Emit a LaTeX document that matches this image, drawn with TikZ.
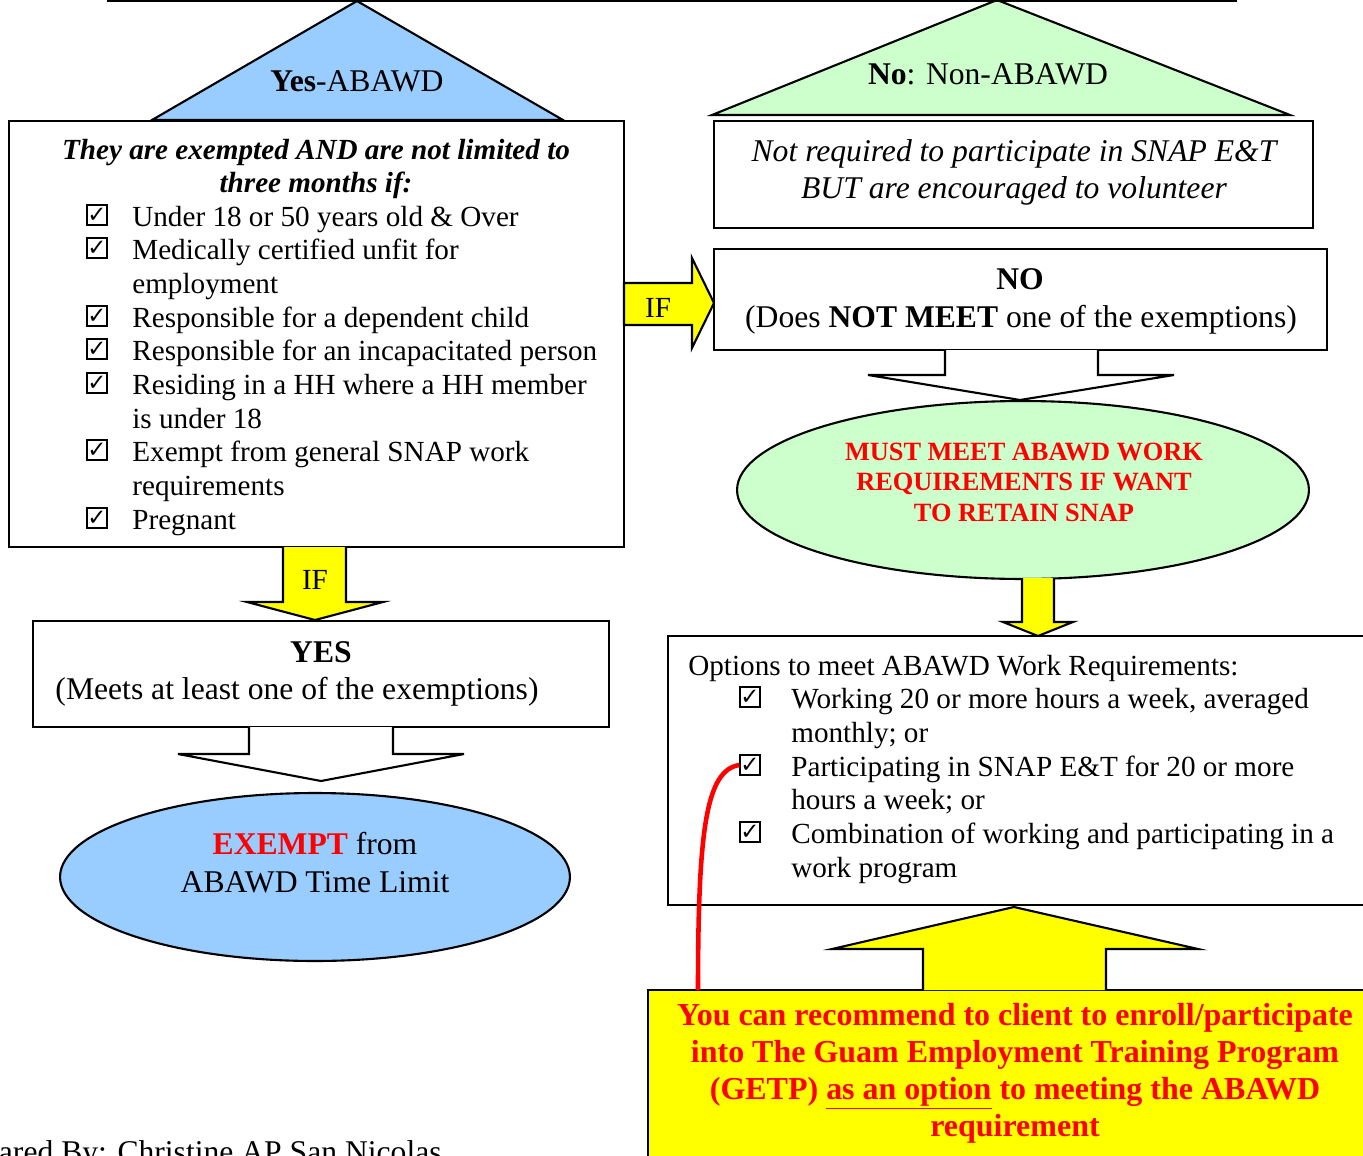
\documentclass[tikz,border=0pt]{standalone}
\usepackage{fontspec}
\setmainfont{Liberation Serif}
\newfontfamily\dv{DejaVu Sans}
\usetikzlibrary{shapes.geometric,fit}
\definecolor{ablue}{HTML}{99CCFF}
\definecolor{agreen}{HTML}{CCFFCC}
\definecolor{ayellow}{HTML}{FFFF00}
\definecolor{ared}{HTML}{FF0000}
\begin{document}
\begin{tikzpicture}[x=0.02cm,y=-0.02cm,
  outl/.style={line width=1.2pt, line join=miter},
  box/.style={draw, line width=1.2pt, fill=white, inner sep=0pt},
  lst/.style={anchor=base west, inner sep=0pt, font=\fontsize{16.6}{20}\selectfont},
  cb/.style={draw, line width=0.7pt, minimum size=0.40cm, inner sep=0pt, font=\dv\bfseries\fontsize{13}{13}\selectfont},
  ctr/.style={anchor=base, inner sep=0pt, font=\fontsize{18}{21}\selectfont},
  ctrs/.style={anchor=base, inner sep=0pt, font=\fontsize{16.6}{20}\selectfont},
  redtxt/.style={anchor=base, inner sep=0pt, text=ared, font=\bfseries\fontsize{18.2}{21}\selectfont},
  ell/.style={ellipse, draw, line width=1.2pt, inner sep=0pt},
  redline/.style={draw=ared, line width=2.6pt}]
\path[use as bounding box, clip] (0,0) rectangle (1363,1156);

% top line and triangles
\filldraw[outl, fill=ablue] (152,120) -- (357,1) -- (563,120) -- cycle;
\filldraw[outl, fill=agreen] (712,115) -- (997,0) -- (1290,115) -- cycle;
\draw[line width=1.6pt] (107,1) -- (1237,1);
\node[ctr] (yesab) at (357,91) {\textbf{Yes}-ABAWD};
\node[ctr] (noab) at (988,84) {\textbf{No}: Non-ABAWD};

% left exemption box
\node[box, fit={(9,121) (624,547)}] (exbox) {};
\node[ctrs, font=\bfseries\itshape\fontsize{16.6}{20}\selectfont] (h1) at (316,159) {They are exempted AND are not limited to};
\node[ctrs, font=\bfseries\itshape\fontsize{16.6}{20}\selectfont] (h2) at (316,192) {three months if:};
\node[cb] (c1) at (97,215) {✓};
\node[lst] (l1) at (132,226) {Under 18 or 50 years old \& Over};
\node[cb] (c2) at (97,248) {✓};
\node[lst] (l2) at (132,259) {Medically certified unfit for};
\node[lst] (l3) at (132,293) {employment};
\node[cb] (c3) at (97,316) {✓};
\node[lst] (l4) at (132,327) {Responsible for a dependent child};
\node[cb] (c4) at (97,349) {✓};
\node[lst] (l5) at (132,360) {Responsible for an incapacitated person};
\node[cb] (c5) at (97,383) {✓};
\node[lst] (l6) at (132,394) {Residing in a HH where a HH member};
\node[lst] (l7) at (132,428) {is under 18};
\node[cb] (c6) at (97,450) {✓};
\node[lst] (l8) at (132,461) {Exempt from general SNAP work};
\node[lst] (l9) at (132,495) {requirements};
\node[cb] (c7) at (97,518) {✓};
\node[lst] (l10) at (132,529) {Pregnant};

% right IF arrow
\filldraw[outl, fill=ayellow] (624,283) -- (692,283) -- (692,258) -- (714,303) -- (692,348) -- (692,325) -- (624,325) -- cycle;
\node[ctrs] (ifr) at (658,317) {IF};

% not required box
\node[box, fit={(714,121) (1313,228)}] (nrbox) {};
\node[ctr, font=\itshape\fontsize{18}{21}\selectfont] (nr1) at (1014,161) {Not required to participate in SNAP E\&T};
\node[ctr, font=\itshape\fontsize{18}{21}\selectfont] (nr2) at (1014,198) {BUT are encouraged to volunteer};

% NO box
\node[box, fit={(714,249) (1327,350)}] (nobox) {};
\node[ctr] (no1) at (1020,289) {\textbf{NO}};
\node[ctr] (no2) at (1021,327) {(Does \textbf{NOT MEET} one of the exemptions)};

% white arrow to green ellipse
\filldraw[outl, fill=white] (945,350) -- (945,375) -- (868,375) -- (1020,400) -- (1174,375) -- (1098,375) -- (1098,350);

% green ellipse
\node[ell, fill=agreen, minimum width=11.44cm, minimum height=3.56cm] (must) at (1023,490) {};
\node[anchor=base, inner sep=0pt, text=ared, font=\bfseries\fontsize{15}{17}\selectfont] (m1) at (1024,460) {MUST MEET ABAWD WORK};
\node[anchor=base, inner sep=0pt, text=ared, font=\bfseries\fontsize{15}{17}\selectfont] (m2) at (1024,490) {REQUIREMENTS IF WANT};
\node[anchor=base, inner sep=0pt, text=ared, font=\bfseries\fontsize{15}{17}\selectfont] (m3) at (1024,521) {TO RETAIN SNAP};

% yellow arrow down to options
\filldraw[outl, fill=ayellow] (1022,578) -- (1022,622) -- (1003,622) -- (1038,636) -- (1073,622) -- (1054,622) -- (1054,578);

% options box
\node[box, fit={(668,636) (1365,905)}] (optbox) {};
\node[lst] (o0) at (688,675) {Options to meet ABAWD Work Requirements:};
\node[cb] (d1) at (750,697) {✓};
\node[lst] (o1) at (791,708) {Working 20 or more hours a week, averaged};
\node[lst] (o2) at (791,742) {monthly; or};
\node[cb] (d2) at (750,765) {✓};
\node[lst] (o3) at (791,776) {Participating in SNAP E\&T for 20 or more};
\node[lst] (o4) at (791,809) {hours a week; or};
\node[cb] (d3) at (750,832) {✓};
\node[lst] (o5) at (791,843) {Combination of working and participating in a};
\node[lst] (o6) at (791,877) {work program};

% yellow box and up arrow
\node[box, fill=ayellow, fit={(648,990) (1366,1162)}] (getp) {};
\filldraw[outl, fill=ayellow] (923,990) -- (923,949) -- (832,949) -- (1014,907) -- (1198,949) -- (1106,949) -- (1106,990);
\node[redtxt] (g1) at (1015,1025) {You can recommend to client to enroll/participate};
\node[redtxt] (g2) at (1015,1062) {into The Guam Employment Training Program};
\node[redtxt] (g3) at (1015,1099) {(GETP) \underline{as an option} to meeting the ABAWD};
\node[redtxt] (g4) at (1015,1136) {requirement};

% left IF down arrow
\filldraw[outl, fill=ayellow] (283,547) -- (283,602) -- (247,602) -- (315,620) -- (383,602) -- (346,602) -- (346,547);
\node[ctrs] (ifd) at (315,589) {IF};

% YES box
\node[box, fit={(33,621) (609,727)}] (yesbox) {};
\node[ctr] (y1) at (321,662) {\textbf{YES}};
\node[ctr] (y2) at (297,699) {(Meets at least one of the exemptions)};

% white arrow to blue ellipse
\filldraw[outl, fill=white] (249,727) -- (249,754) -- (178,754) -- (321,781) -- (464,754) -- (393,754) -- (393,727);

% blue ellipse
\node[ell, fill=ablue, minimum width=10.2cm, minimum height=3.36cm] (exempt) at (315,877) {};
\node[ctr] (e1) at (315,854) {\textcolor{ared}{\textbf{EXEMPT}} from};
\node[ctr] (e2) at (315,892) {ABAWD Time Limit};

% red connector
\coordinate (rs) at (698,990);
\draw[redline] (rs) .. controls (698,830) and (706,770) .. (d2.west);

% footer
\node[anchor=base east, inner sep=0pt, font=\fontsize{18}{21}\selectfont] (prep) at (442,1162) {Prepared By: Christine AP San Nicolas};
\end{tikzpicture}
\end{document}
